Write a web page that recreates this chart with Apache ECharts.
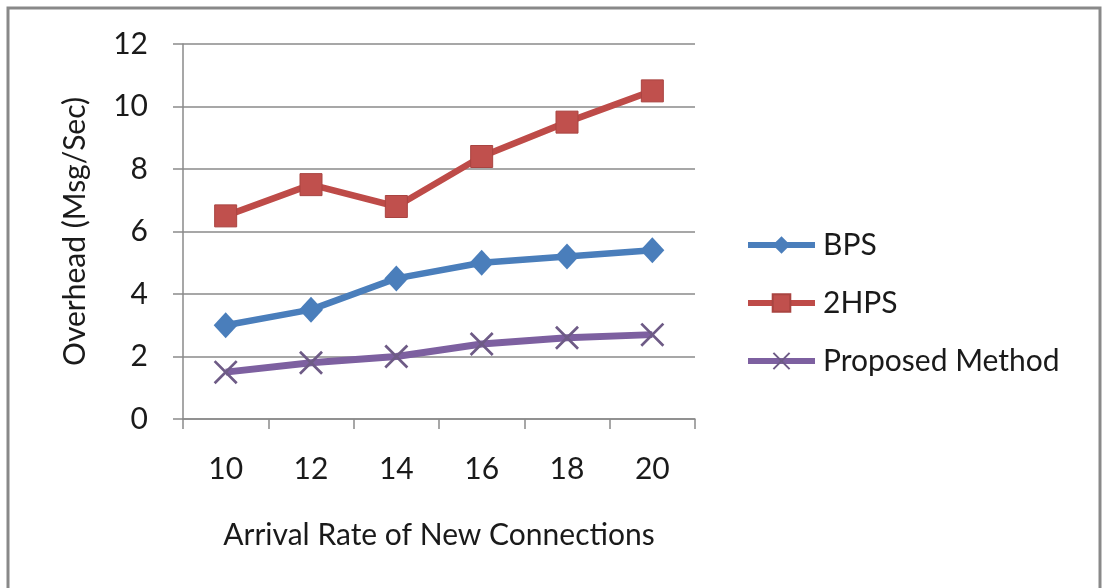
<!DOCTYPE html>
<html>
<head>
<meta charset="utf-8">
<script src="https://cdn.jsdelivr.net/npm/echarts@6/dist/echarts.min.js"></script>
<style>
  html, body { margin: 0; padding: 0; background: #fff; }
  #chart { width: 1103px; height: 588px; }
</style>
</head>
<body>
<div id="chart"></div>
<script>
// Arrival rates (x categories)
const categories = ['10', '12', '14', '16', '18', '20'];
// Overhead in Msg/Sec per method
const bpsValues = [3.0, 3.5, 4.5, 5.0, 5.2, 5.4];
const hps2Values = [6.5, 7.5, 6.8, 8.4, 9.5, 10.5];
const proposedValues = [1.5, 1.8, 2.0, 2.4, 2.6, 2.7];
const yTicks = { min: 0, max: 12, interval: 2 };

const FONT = 'Lato, "Open Sans", sans-serif';
const FS = 30;
const TEXT = '#1a1a1a';
const GRID_GRAY = '#8a8a8a';

// Thin X marker drawn as two crossing bars
const crossPath = 'path://M0,1.6L1.6,0L20,18.4L18.4,20Z M18.4,0L20,1.6L1.6,20L0,18.4Z';

const chart = echarts.init(document.getElementById('chart'), null, { renderer: 'canvas' });

chart.setOption({
  backgroundColor: '#ffffff',
  animation: false,
  textStyle: { fontFamily: FONT },
  graphic: [{
    type: 'rect',
    shape: { x: 8, y: 8, width: 1092, height: 620 },
    style: { fill: 'none', stroke: '#898989', lineWidth: 3 },
    silent: true
  }],
  grid: { left: 183, top: 44, right: 408, bottom: 169 },
  legend: {
    orient: 'vertical',
    left: 740,
    top: 225,
    itemWidth: 67,
    itemHeight: 22,
    itemGap: 28,
    lineStyle: { width: 6 },
    textStyle: { fontFamily: FONT, fontSize: FS, color: TEXT, padding: [0, 0, 0, 3] },
    data: ['BPS', '2HPS', 'Proposed Method']
  },
  xAxis: {
    type: 'category',
    data: categories,
    boundaryGap: true,
    name: 'Arrival Rate of New Connections',
    nameLocation: 'middle',
    nameGap: 101,
    nameTextStyle: { fontFamily: FONT, fontSize: FS, color: TEXT },
    axisLine: { lineStyle: { color: GRID_GRAY, width: 1.5 } },
    axisTick: { show: true, length: 10, alignWithLabel: false, lineStyle: { color: GRID_GRAY, width: 1.5 } },
    axisLabel: { fontFamily: FONT, fontSize: FS, color: TEXT, margin: 35 },
    splitLine: { show: false }
  },
  yAxis: {
    type: 'value',
    min: yTicks.min,
    max: yTicks.max,
    interval: yTicks.interval,
    name: 'Overhead (Msg/Sec)',
    nameLocation: 'middle',
    nameGap: 93,
    nameRotate: 90,
    nameTextStyle: { fontFamily: FONT, fontSize: FS, color: TEXT },
    axisLine: { show: true, lineStyle: { color: GRID_GRAY, width: 1.5 } },
    axisTick: { show: true, length: 10, lineStyle: { color: GRID_GRAY, width: 1.5 } },
    axisLabel: { fontFamily: FONT, fontSize: FS, color: TEXT, margin: 35 },
    splitLine: { show: true, lineStyle: { color: GRID_GRAY, width: 1.5 } }
  },
  series: [
    {
      name: 'BPS',
      type: 'line',
      data: bpsValues,
      symbol: 'diamond',
      symbolSize: [24, 26],
      color: '#4a7ebb',
      lineStyle: { width: 6.5, color: '#4a7ebb' },
      itemStyle: { color: '#4a7ebb' },
      z: 3
    },
    {
      name: '2HPS',
      type: 'line',
      data: hps2Values,
      symbol: 'rect',
      symbolSize: 22,
      color: '#be4b48',
      lineStyle: { width: 6.5, color: '#be4b48' },
      itemStyle: { color: '#c0504d', borderColor: '#a94441', borderWidth: 1 },
      z: 3
    },
    {
      name: 'Proposed Method',
      type: 'line',
      data: proposedValues,
      symbol: crossPath,
      symbolSize: 24,
      color: '#7d60a0',
      lineStyle: { width: 7, color: '#7d60a0' },
      itemStyle: { color: '#6e5b86' },
      z: 3
    }
  ]
});
</script>
</body>
</html>
